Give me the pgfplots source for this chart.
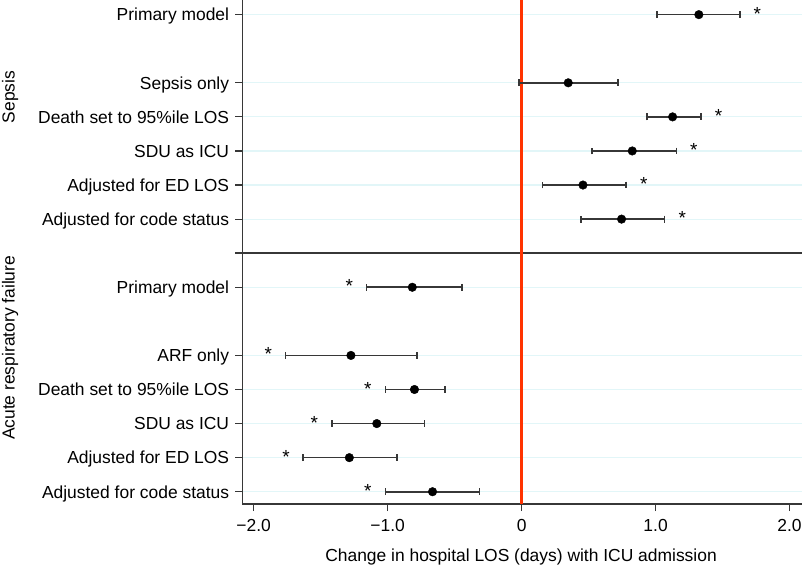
\documentclass[border=0pt]{standalone}
\usepackage{fontspec}
\setmainfont{Liberation Sans}
\usepackage{pgfplots}
\pgfplotsset{compat=1.18}
\usepackage{pgfplotstable}
\definecolor{refred}{RGB}{255,51,0}
\definecolor{gridc}{RGB}{226,246,248}
\definecolor{axc}{RGB}{55,55,55}

% y: row position; x: estimate; lo/hi: confidence limits
\pgfplotstableread{
y  x      lo      hi
15 1.323  1.010   1.630
13 0.348  -0.020  0.720
12 1.127  0.935   1.340
11 0.826  0.527   1.157
10 0.458  0.157   0.780
9  0.746  0.443   1.067
7  -0.816 -1.157  -0.445
5  -1.274 -1.763  -0.780
4  -0.800 -1.016  -0.574
3  -1.081 -1.417  -0.725
2  -1.286 -1.631  -0.929
1  -0.665 -1.017  -0.313
}\est

% significance stars
\pgfplotstableread{
y  s
15 1.760
12 1.470
11 1.286
10 0.913
9  1.200
7  -1.287
5  -1.890
4  -1.148
3  -1.548
2  -1.758
1  -1.148
}\stars

\begin{document}
\begin{tikzpicture}[font=\fontsize{17.5}{21}\selectfont]
\begin{axis}[
  name=ax,
  scale only axis,
  width=559.7bp, height=504bp,
  xmin=-2.085, xmax=2.093,
  ymin=0.64, ymax=15.43,
  clip=false,
  axis x line*=bottom, axis y line*=left,
  axis line style={axc, line width=1.3bp, -},
  xtick={-2,-1,0,1,2},
  xticklabels={−2.0,−1.0,0,1.0,2.0},
  ytick={1,2,3,4,5,7,9,10,11,12,13,15},
  yticklabels={Adjusted for code status,Adjusted for ED LOS,SDU as ICU,Death set to 95\%ile LOS,ARF only,Primary model,Adjusted for code status,Adjusted for ED LOS,SDU as ICU,Death set to 95\%ile LOS,Sepsis only,Primary model},
  tick align=outside,
  major tick length=7bp,
  tick style={axc, line width=1.2bp},
  ymajorgrids,
  major grid style={gridc, line width=1.2bp},
  every tick label/.append style={font=\fontsize{17.5}{21}\selectfont},
  xticklabel style={anchor=base, inner sep=0pt, yshift=-20.7bp},
  yticklabel style={anchor=base east, inner sep=0pt, xshift=-6bp, yshift=-6.3bp},
  xlabel={Change in hospital LOS (days) with ICU admission},
  xlabel style={at={(axis description cs:0.498,0)}, anchor=base, inner sep=0pt, yshift=-57.7bp},
]
% panel separator
\draw[axc, line width=1.4bp] ([xshift=-7bp]axis cs:-2.085,8.01) -- (axis cs:2.093,8.01);
% reference line at zero
\addplot[refred, line width=3bp] coordinates {(0,0.64) (0,15.43)};
% estimates with confidence intervals
\addplot[only marks, mark=*, mark size=4.3bp, black,
  error bars/.cd, x dir=both, x explicit,
  error bar style={axc, line width=1.6bp},
  error mark options={axc, line width=1.6bp, mark size=3.4bp, rotate=90}]
  table[x=x, y=y, x error plus expr=\thisrow{hi}-\thisrow{x}, x error minus expr=\thisrow{x}-\thisrow{lo}] {\est};
% stars
\addplot[draw=none, mark=none, nodes near coords={*},
  every node near coord/.append style={anchor=center, inner sep=0pt, yshift=1bp, font=\fontsize{19}{22}\selectfont, black}]
  table[x=s, y=y] {\stars};
% group labels
\node[rotate=90, anchor=center, inner sep=0pt] at ([xshift=-232.3bp]axis cs:-2.085,12.58) {Sepsis};
\node[rotate=90, anchor=center, inner sep=0pt] at ([xshift=-232.3bp]axis cs:-2.085,5.22) {Acute respiratory failure};
\end{axis}
\pgfresetboundingbox
\path[use as bounding box] (ax.south west) ++(-242.3bp,-62bp) rectangle (ax.north east);
\end{tikzpicture}
\end{document}
